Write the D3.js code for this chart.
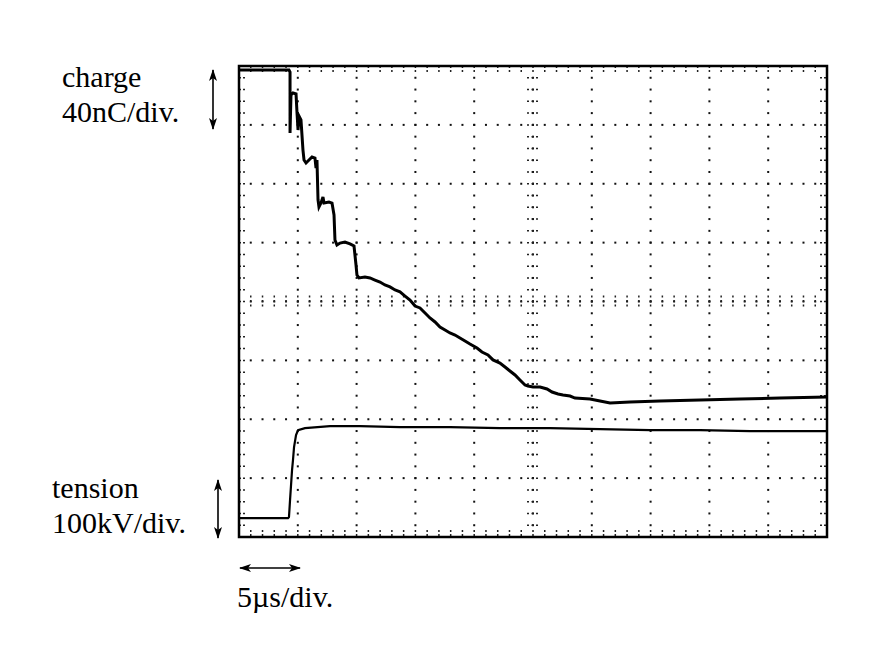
<!DOCTYPE html>
<html>
<head>
<meta charset="utf-8">
<script src="https://cdn.jsdelivr.net/npm/d3@7"></script>
<style>
body { margin: 0; background: #fff; }
</style>
</head>
<body>
<div id="scope"></div>
<script>
// oscilloscope readings: time in µs, charge in nC, tension in kV
let chargeTime = [0, 4.25, 4.34, 4.34, 4.42, 4.59, 4.85, 4.93, 5.02, 5.10, 5.27, 5.44, 5.53, 5.70, 5.95, 6.21, 6.46, 6.55, 6.63,
	6.72, 6.80, 6.97, 7.14, 7.23, 7.65, 7.91, 8.08, 8.16, 8.33, 8.59, 9.01, 9.44, 9.78, 9.95, 10.03, 10.20, 10.71, 11.14,
	11.56, 11.99, 12.41, 12.84, 13.27, 13.69, 14.12, 14.54, 14.97, 15.39, 15.82, 16.24, 16.67, 17.09, 17.52, 17.94, 18.37,
	18.79, 19.22, 19.64, 20.24, 20.66, 21.17, 21.60, 22.19, 22.62, 23.04, 23.47, 23.89, 24.32, 24.57, 25.0, 25.60, 26.19,
	26.62, 27.13, 27.55, 28.15, 28.57, 29.85, 30.70, 31.55, 33.25, 35.80, 39.20, 42.60, 46.00, 50.0];
let chargeValue = [317.3, 317.3, 315.9, 274.5, 300.3, 301.7, 301.0, 288.7, 276.5, 286.0, 283.3, 262.9, 256.1, 254.1, 256.1, 258.2, 257.5, 250.7, 256.1,
	229.0, 224.2, 226.9, 231.0, 226.9, 227.6, 226.9, 218.8, 201.8, 198.4, 199.7, 200.4, 199.1, 197.7, 184.8, 178.0, 176.0, 176.6, 176.0,
	174.6, 173.2, 171.2, 169.9, 167.8, 166.5, 163.7, 161.0, 156.9, 155.6, 152.2, 148.8, 146.1, 142.7, 140.6, 138.6, 137.2,
	135.2, 133.2, 131.1, 128.4, 125.7, 123.7, 120.3, 118.2, 115.5, 112.8, 110.1, 106.7, 103.3, 102.6, 101.9, 101.9, 100.6,
	98.5, 97.2, 96.5, 95.8, 94.4, 93.8, 92.4, 91.0, 91.7, 92.4, 93.1, 93.8, 94.4, 95.1];

let tensionTime = [0, 4.17, 4.25, 4.34, 4.51, 4.59, 4.68, 4.85, 5.02, 5.61, 7.74, 10.29, 13.69, 17.94, 22.19, 26.45, 30.70, 34.95, 39.20, 43.45, 50.0];
let tensionValue = [0, 0, 1.7, 30.6, 81.5, 98.5, 120.6, 141.0, 149.5, 152.9, 156.3, 156.3, 154.6, 154.6, 152.9, 152.9, 151.2, 149.5, 149.5, 147.8, 147.8];

let chargeLabel = ["charge", "40nC/div."];
let tensionLabel = ["tension", "100kV/div."];
let timeLabel = "5µs/div.";

let width = 886, height = 664;
let frame = {left: 239, right: 827, top: 66, bottom: 537};
let serif = "'Liberation Serif', Tinos, 'Times New Roman', Times, 'DejaVu Serif', serif";

let svg = d3.select("#scope").append("svg")
	.attr("width", width)
	.attr("height", height);

svg.append("rect").attr("width", width).attr("height", height).attr("fill", "#fff");

let xScale = d3.scaleLinear().domain([0, 50]).range([frame.left, frame.right]);   // 5 µs/div, 10 div
let divScale = d3.scaleLinear().domain([0, 8]).range([frame.bottom, frame.top]);  // 8 vertical div
let chargeScale = d3.scaleLinear().domain([0, 320]).range([frame.bottom, frame.top]);   // 40 nC/div
let tensionScale = d3.scaleLinear().domain([-32, 768]).range([frame.bottom, frame.top]); // 100 kV/div

let minorX = d3.range(0, 50.001, 1);
let minorY = d3.range(0, 8.001, 0.2);

let grid = svg.append("g").attr("class", "grid");

// dotted graticule lines
let hDots = d3.cross(d3.range(1, 8), minorX);
grid.selectAll("rect.hdot")
	.data(hDots)
	.enter().append("rect")
	.attr("class", "hdot")
	.attr("x", d => xScale(d[1]) - 1)
	.attr("y", d => divScale(d[0]) - 1)
	.attr("width", 2)
	.attr("height", 2)
	.attr("fill", "#111");

let vDots = d3.cross(d3.range(5, 50, 5), minorY);
grid.selectAll("rect.vdot")
	.data(vDots)
	.enter().append("rect")
	.attr("class", "vdot")
	.attr("x", d => xScale(d[0]) - 1)
	.attr("y", d => divScale(d[1]) - 1)
	.attr("width", 2)
	.attr("height", 2)
	.attr("fill", "#111");

// ticks on the centre lines
grid.selectAll("line.ctick-x")
	.data(minorX)
	.enter().append("line")
	.attr("class", "ctick-x")
	.attr("x1", d => xScale(d)).attr("x2", d => xScale(d))
	.attr("y1", divScale(4) - 6).attr("y2", divScale(4) + 6)
	.attr("stroke", "#222").attr("stroke-width", 1.5)
	.attr("stroke-dasharray", "2,2.5");

grid.selectAll("line.ctick-y")
	.data(minorY)
	.enter().append("line")
	.attr("class", "ctick-y")
	.attr("y1", d => divScale(d)).attr("y2", d => divScale(d))
	.attr("x1", xScale(25) - 6).attr("x2", xScale(25) + 6)
	.attr("stroke", "#222").attr("stroke-width", 1.5)
	.attr("stroke-dasharray", "2,2.5");

// ticks along the frame edges
let edgeTicks = [];
minorY.forEach(v => {
	edgeTicks.push({x1: xScale(0), x2: xScale(0) + 6, y1: divScale(v), y2: divScale(v)});
	edgeTicks.push({x1: xScale(50) - 7, x2: xScale(50), y1: divScale(v), y2: divScale(v)});
});
minorX.forEach(t => {
	edgeTicks.push({x1: xScale(t), x2: xScale(t), y1: divScale(8), y2: divScale(8) + 6});
	edgeTicks.push({x1: xScale(t), x2: xScale(t), y1: divScale(0) - 7, y2: divScale(0)});
});
grid.selectAll("line.etick")
	.data(edgeTicks)
	.enter().append("line")
	.attr("class", "etick")
	.attr("x1", d => d.x1).attr("x2", d => d.x2)
	.attr("y1", d => d.y1).attr("y2", d => d.y2)
	.attr("stroke", "#222").attr("stroke-width", 1.5)
	.attr("stroke-dasharray", "2,2");

svg.append("rect")
	.attr("x", xScale(0))
	.attr("y", divScale(8))
	.attr("width", xScale(50) - xScale(0))
	.attr("height", divScale(0) - divScale(8))
	.attr("fill", "none")
	.attr("stroke", "#000")
	.attr("stroke-width", 2.5);

// traces
let chargeLine = d3.line()
	.x(d => xScale(d[0]))
	.y(d => chargeScale(d[1]));
let tensionLine = d3.line()
	.x(d => xScale(d[0]))
	.y(d => tensionScale(d[1]));

svg.append("path")
	.datum(d3.zip(chargeTime, chargeValue))
	.attr("d", chargeLine)
	.attr("fill", "none")
	.attr("stroke", "#000")
	.attr("stroke-width", 3)
	.attr("stroke-linejoin", "miter");

svg.append("path")
	.datum(d3.zip(tensionTime, tensionValue))
	.attr("d", tensionLine)
	.attr("fill", "none")
	.attr("stroke", "#000")
	.attr("stroke-width", 2.2);

// double arrows
let defs = svg.append("defs");
defs.append("marker")
	.attr("id", "head")
	.attr("viewBox", "0 0 12 8")
	.attr("refX", 11)
	.attr("refY", 4)
	.attr("markerWidth", 12)
	.attr("markerHeight", 8)
	.attr("markerUnits", "userSpaceOnUse")
	.attr("orient", "auto-start-reverse")
	.append("path")
	.attr("d", "M0,0 L12,4 L0,8 L3,4 Z")
	.attr("fill", "#000");

function doubleArrow(x1, y1, x2, y2) {
	svg.append("line")
		.attr("x1", x1).attr("y1", y1)
		.attr("x2", x2).attr("y2", y2)
		.attr("stroke", "#000")
		.attr("stroke-width", 1.6)
		.attr("marker-start", "url(#head)")
		.attr("marker-end", "url(#head)");
}

doubleArrow(213, 70, 213, 129);
doubleArrow(218, 480, 218, 538);
doubleArrow(240, 568, 300, 568);

// labels
function label(x, y, s) {
	svg.append("text")
		.attr("x", x).attr("y", y)
		.style("font-family", serif)
		.style("font-size", "30px")
		.attr("fill", "#000")
		.text(s);
}
label(62, 87, chargeLabel[0]);
label(62, 122, chargeLabel[1]);
label(52, 498, tensionLabel[0]);
label(52, 533, tensionLabel[1]);
label(237, 607, timeLabel);
</script>
</body>
</html>
